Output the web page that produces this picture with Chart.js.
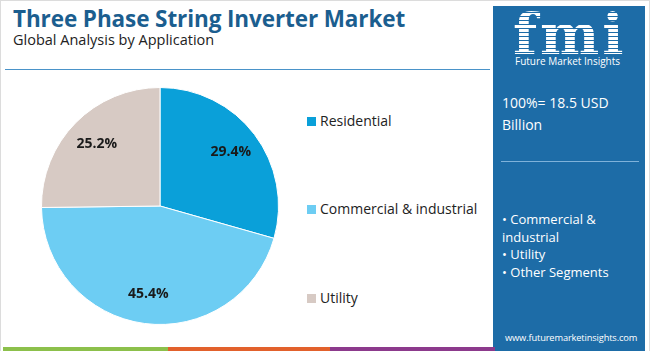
<!DOCTYPE html>
<html>
<head>
<meta charset="utf-8">
<script src="https://cdn.jsdelivr.net/npm/chart.js@4.4.0/dist/chart.umd.min.js"></script>
<style>
  html, body { margin: 0; padding: 0; }
  body { width: 650px; height: 351px; position: relative; overflow: hidden; background: #fff; font-family: "Open Sans", "Noto Sans", sans-serif; }
  #frame { position: absolute; left: 0; top: 0; width: 648px; height: 351px; border: 1px solid #dcdcdc; border-bottom: none; }
  #title { position: absolute; left: 13px; top: 3px; font-size: 22.5px; font-weight: 700; color: #1b5e8f; letter-spacing: -0.1px; }
  #subtitle { position: absolute; left: 13px; top: 30px; font-size: 14.5px; color: #222; }
  #rule { position: absolute; left: 5px; top: 69px; width: 485px; height: 1px; background: #4a93c9; }
  #box { position: absolute; left: 30px; top: 76px; width: 260px; height: 260px; }
  #legend { position: absolute; left: 307px; top: 0; font-size: 14px; color: #222; }
  .item { position: absolute; white-space: nowrap; }
  .item span { display: inline-block; width: 9px; height: 9px; margin-right: 4px; vertical-align: 0px; }
  #panel { position: absolute; left: 493px; top: 6px; width: 152px; height: 345px; background: #1d6ca7; color: #fff; }
  #logo { position: absolute; left: 20px; top: 3px; font-family: "DejaVu Serif", serif; font-weight: 700; font-size: 56px; line-height: 50px; letter-spacing: 3px;
          background: repeating-linear-gradient(#fff 0 3px, #1d6ca7 3px 4px); -webkit-background-clip: text; background-clip: text; color: transparent; }
  #logoSub { position: absolute; left: 22px; top: 48px; font-size: 10px; color: #fff; }
  #total { position: absolute; left: 9px; top: 86px; font-size: 14px; line-height: 22px; }
  #sep { position: absolute; left: 8px; top: 155px; width: 138px; height: 1px; background: #7fb2da; }
  #bullets { position: absolute; left: 9px; top: 205px; font-size: 13px; line-height: 17.5px; }
  #url { position: absolute; left: 12px; top: 325px; font-size: 9.3px; letter-spacing: -0.15px; white-space: nowrap; }
  .bar { position: absolute; top: 347px; height: 4px; }
</style>
</head>
<body>
<div id="frame"></div>
<div id="title">Three Phase String Inverter Market</div>
<div id="subtitle">Global Analysis by Application</div>
<div id="rule"></div>
<div id="box"><canvas id="grafik"></canvas></div>
<div id="legend"></div>
<div id="panel">
  <div id="logo">fmi</div>
  <div id="logoSub">Future Market Insights</div>
  <div id="total">100%= 18.5 USD<br>Billion</div>
  <div id="sep"></div>
  <div id="bullets">• Commercial &amp;<br>industrial<br>• Utility<br>• Other Segments</div>
  <div id="url">www.futuremarketinsights.com</div>
</div>
<div class="bar" style="left:3px;width:165px;background:#8cc04b"></div>
<div class="bar" style="left:168px;width:162px;background:#e2612c"></div>
<div class="bar" style="left:330px;width:165px;background:#8c3a8c"></div>

<script>
// data pie
const kategori = ["Residential", "Commercial & industrial", "Utility"]
const nilai = [29.4, 45.4, 25.2]
const warna = ["#0aa0d9", "#6dcdf3", "#d7cac4"]
const posisiLegend = [111, 199, 288]

// legend manual
const legend = document.getElementById('legend')
kategori.forEach((k, i) => {
    const el = document.createElement('div')
    el.className = 'item'
    el.style.top = posisiLegend[i] + 'px'
    el.innerHTML = `<span style="background:${warna[i]}"></span>${k.replace('&', '&amp;')}`
    legend.appendChild(el)
})

// label persen di dalam slice
const labelPersen = {
    id: 'labelPersen',
    afterDatasetsDraw(chart) {
        const ctx = chart.ctx
        const meta = chart.getDatasetMeta(0)
        ctx.save()
        ctx.font = 'bold 14px "Open Sans", sans-serif'
        ctx.fillStyle = '#1a1a1a'
        ctx.textAlign = 'center'
        ctx.textBaseline = 'middle'
        meta.data.forEach((arc, i) => {
            const mid = (arc.startAngle + arc.endAngle) / 2
            const r = arc.outerRadius * 0.75
            ctx.fillText(nilai[i].toFixed(1) + '%', arc.x + Math.cos(mid) * r, arc.y + Math.sin(mid) * r)
        })
        ctx.restore()
    }
}

const ctx = document.getElementById('grafik').getContext('2d')
const grafik = new Chart(ctx, {
    type: 'pie',
    data: {
        labels: kategori,
        datasets: [{
            data: nilai,
            backgroundColor: warna,
            borderColor: '#fff',
            borderWidth: 1
        }]
    },
    options: {
        responsive: true,
        maintainAspectRatio: false,
        animation: false,
        layout: { padding: 11 },
        plugins: {
            legend: { display: false },
            tooltip: { enabled: false }
        }
    },
    plugins: [labelPersen]
})
</script>
</body>
</html>
